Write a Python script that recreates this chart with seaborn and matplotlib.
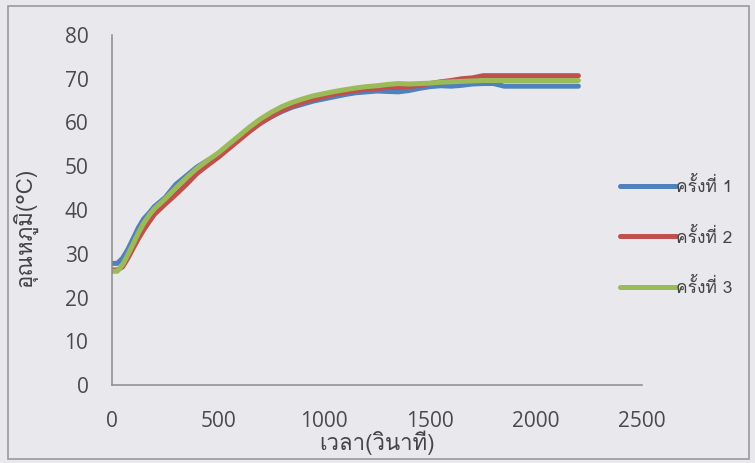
import numpy as np
import pandas as pd
import matplotlib
matplotlib.use("Agg")
import matplotlib.pyplot as plt
from matplotlib import font_manager
from matplotlib.ft2font import FT2Font
from matplotlib.patches import Rectangle
import seaborn as sns

# ---- data: temperature (°C) against time (s) for three runs ----
time_s = [0, 25, 50, 75, 100, 125, 150, 175, 200, 250, 300, 350, 400, 450,
          500, 550, 600, 650, 700, 750, 800, 850, 900, 950, 1000, 1050,
          1100, 1150, 1200, 1250, 1300, 1350, 1400, 1450, 1500, 1550, 1600,
          1650, 1700, 1750, 1800, 1850, 1900, 1950, 2000, 2050, 2100, 2150,
          2200]

run1 = [27.8, 27.8, 29.0, 31.0, 33.5, 36.0, 38.0, 39.3, 40.8, 42.8, 45.8,
        47.8, 49.8, 51.3, 52.8, 54.5, 56.3, 58.3, 60.0, 61.3, 62.5, 63.5,
        64.2, 64.9, 65.4, 65.9, 66.4, 66.8, 67.0, 67.2, 67.1, 67.0, 67.3,
        67.8, 68.2, 68.4, 68.3, 68.5, 68.8, 68.9, 68.9, 68.3, 68.3, 68.3,
        68.3, 68.3, 68.3, 68.3, 68.3]

run2 = [26.3, 26.3, 27.0, 29.0, 31.3, 33.5, 35.5, 37.3, 39.0, 41.3, 43.5,
        45.8, 48.3, 50.2, 52.0, 54.0, 56.0, 58.0, 59.8, 61.3, 62.7, 63.7,
        64.6, 65.3, 65.9, 66.5, 66.9, 67.3, 67.6, 67.8, 68.0, 68.0, 68.2,
        68.5, 68.9, 69.3, 69.6, 70.0, 70.2, 70.7, 70.7, 70.7, 70.7, 70.7,
        70.7, 70.7, 70.7, 70.7, 70.7]

run3 = [26.0, 26.0, 27.5, 29.8, 32.3, 34.8, 37.0, 38.8, 40.3, 42.5, 45.0,
        47.3, 49.5, 51.3, 53.0, 55.0, 57.0, 59.0, 60.8, 62.3, 63.6, 64.6,
        65.4, 66.1, 66.6, 67.1, 67.5, 67.9, 68.2, 68.4, 68.7, 68.9, 68.8,
        68.9, 69.0, 69.2, 69.3, 69.4, 69.5, 69.6, 69.6, 69.6, 69.6, 69.6,
        69.6, 69.6, 69.6, 69.6, 69.6]

series_names = ["ครั้งที่ 1", "ครั้งที่ 2", "ครั้งที่ 3"]
series_colors = ["#4f81bd", "#c0504d", "#9bbb59"]

x_ticks = [0, 500, 1000, 1500, 2000, 2500]
y_ticks = [0, 10, 20, 30, 40, 50, 60, 70, 80]
x_title = "เวลา(วินาที)"
y_title = "อุณหภูมิ(°C)"


def find_thai_family():
    """Pick an installed font that carries Thai glyphs."""
    found = []
    for f in font_manager.fontManager.ttflist:
        try:
            cmap = FT2Font(f.fname).get_charmap()
        except Exception:
            continue
        if all(ord(c) in cmap for c in "ครั้งที่อุณหภูมิ"):
            found.append(f.name)
    if not found:
        return None
    pref = ["Tahoma", "Arial", "Loma", "Garuda", "Sarabun", "Thai", "Sans"]
    for p in pref:
        for name in found:
            if p.lower() in name.lower():
                return name
    return found[0]


sns.set_theme(style="white")
thai = find_thai_family()
fallback = [thai] if thai else []
num_family = ["Open Sans"] + fallback + ["DejaVu Sans"]
thai_family = fallback + ["Open Sans", "DejaVu Sans"]
plt.rcParams["font.family"] = num_family

frames = []
for name, vals in zip(series_names, [run1, run2, run3]):
    frames.append(pd.DataFrame({"time": time_s, "temp": vals, "run": name}))
df = pd.concat(frames, ignore_index=True)

W, H = 755, 463
fig = plt.figure(figsize=(W / 100, H / 100), dpi=100)
bg = "#e9e9ed"
fig.patch.set_facecolor(bg)

ax = fig.add_axes([112 / W, 1 - 385 / H, (642 - 112) / W, (385 - 35) / H])
ax.set_facecolor("none")

sns.lineplot(data=df, x="time", y="temp", hue="run", palette=series_colors,
             hue_order=series_names, estimator=None, sort=False,
             linewidth=3.6, ax=ax, legend=True)
for ln in ax.lines:
    ln.set_solid_capstyle("round")
    ln.set_solid_joinstyle("round")

ax.set_xlim(0, 2500)
ax.set_ylim(0, 80)
ax.set_xticks(x_ticks)
ax.set_yticks(y_ticks)
ax.tick_params(axis="both", length=0, labelsize=15, labelcolor="#4a4a4a")
ax.tick_params(axis="x", pad=19)
ax.tick_params(axis="y", pad=17)

for side in ["top", "right"]:
    ax.spines[side].set_visible(False)
for side in ["left", "bottom"]:
    ax.spines[side].set_color("#8a8a8a")
    ax.spines[side].set_linewidth(1.1)

ax.set_xlabel(x_title, fontsize=16, color="#444444", family=thai_family)
ax.set_ylabel(y_title, fontsize=16, color="#444444", family=thai_family)
ax.xaxis.set_label_coords(0.5, -0.13)
ax.yaxis.set_label_coords(-0.14, 0.45)

handles, labels = ax.get_legend_handles_labels()
ax.legend_.remove()
leg = fig.legend(handles, labels, loc="center left",
                 bbox_to_anchor=(620 / W, 1 - 237 / H), frameon=False,
                 borderpad=0, borderaxespad=0, handlelength=3.2,
                 handletextpad=0.05, labelspacing=1.8,
                 prop={"family": thai_family, "size": 12.5})
for t in leg.get_texts():
    t.set_color("#444444")
for h in leg.get_lines():
    h.set_linewidth(3.6)
    h.set_solid_capstyle("round")

# outer chart frame
fig.add_artist(Rectangle((8 / W, 1 - 459 / H), (749 - 8) / W, (459 - 6) / H,
                         transform=fig.transFigure, fill=False,
                         edgecolor="#9a9a9a", linewidth=1.2))

fig.savefig("out.png", dpi=100, facecolor=bg)
